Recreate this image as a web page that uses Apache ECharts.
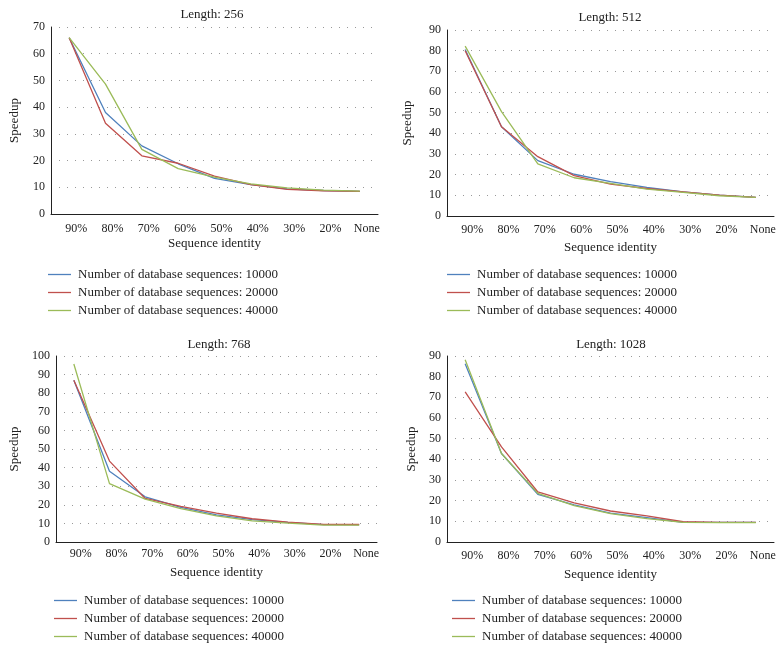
<!DOCTYPE html>
<html>
<head>
<meta charset="utf-8">
<script src="https://cdn.jsdelivr.net/npm/echarts@6/dist/echarts.min.js"></script>
<style>html,body{margin:0;padding:0;background:#fff}#c{width:783px;height:653px}</style>
</head>
<body>
<div id="c"></div>
<script>
const categories = ['90%', '80%', '70%', '60%', '50%', '40%', '30%', '20%', 'None'];
const seriesNames = ['Number of database sequences: 10000', 'Number of database sequences: 20000', 'Number of database sequences: 40000'];
const panelTitles = ['Length: 256', 'Length: 512', 'Length: 768', 'Length: 1028'];
const yMax = [70, 90, 100, 90];

const len256_10000 = [66, 38, 25.5, 18.8, 13.3, 11, 9.4, 8.8, 8.5];
const len256_20000 = [66, 34, 21.8, 19, 14.2, 11, 9.2, 8.7, 8.5];
const len256_40000 = [66, 48.6, 24.2, 17, 13.8, 11.3, 9.8, 8.9, 8.6];

const len512_10000 = [80.6, 43.2, 26.8, 20.2, 16.6, 13.8, 11.7, 10.1, 9];
const len512_20000 = [80, 43.2, 28.7, 19.5, 15.4, 13.3, 11.7, 10.1, 9];
const len512_40000 = [82.2, 50.5, 25.2, 18.5, 15.8, 13, 11.4, 9.8, 9];

const len768_10000 = [87, 38, 24.3, 18.6, 14.6, 12, 10.5, 9.3, 9.3];
const len768_20000 = [87, 43.5, 23.4, 19.1, 15.5, 12.5, 10.7, 9.5, 9.4];
const len768_40000 = [95.7, 31.4, 23, 17.9, 14.1, 11.4, 10.2, 9.1, 9.1];

const len1028_10000 = [86.3, 42.8, 23.1, 18, 14, 11.8, 9.5, 9.5, 9.5];
const len1028_20000 = [72.6, 46, 24.2, 18.9, 15, 12.6, 9.8, 9.5, 9.5];
const len1028_40000 = [88.2, 42.8, 23.5, 17.6, 13.7, 11.3, 9.5, 9.4, 9.4];

const panelData = [
  [len256_10000, len256_20000, len256_40000],
  [len512_10000, len512_20000, len512_40000],
  [len768_10000, len768_20000, len768_40000],
  [len1028_10000, len1028_20000, len1028_40000]
];

const colors = ['#4F81BD', '#C0504D', '#9BBB59'];
const FONT = 'Liberation Serif';

const grids = [
  {left: 51, top: 27, width: 327, height: 187},
  {left: 447, top: 30, width: 327, height: 186},
  {left: 56, top: 356, width: 321, height: 186},
  {left: 447, top: 356, width: 327, height: 186}
];
const titlePos = [
  {x: 212, y: 8},
  {x: 610, y: 11},
  {x: 219, y: 338},
  {x: 611, y: 338}
];
const yNameGap = [30, 33, 35, 29];
const xLabelMargin = [9, 8, 6, 8];
const xNameGap = [23, 25, 24, 26];
const legendPos = [
  {left: 48, top: 268},
  {left: 447, top: 268},
  {left: 54, top: 594},
  {left: 452, top: 594}
];

const option = {
  animation: false,
  color: colors,
  textStyle: {fontFamily: FONT},
  title: panelTitles.map((t, i) => ({
    text: t, left: titlePos[i].x, top: titlePos[i].y, textAlign: 'center', padding: 0,
    textStyle: {fontFamily: FONT, fontSize: 13, fontWeight: 'normal', color: '#222'}
  })),
  grid: grids,
  xAxis: grids.map((g, i) => ({
    type: 'category', gridIndex: i, data: categories, boundaryGap: true,
    name: 'Sequence identity', nameLocation: 'middle', nameGap: xNameGap[i],
    nameTextStyle: {fontFamily: FONT, fontSize: 13, color: '#222'},
    axisLine: {lineStyle: {color: '#222', width: 1}},
    axisTick: {show: false},
    axisLabel: {fontFamily: FONT, fontSize: 12, color: '#222', margin: xLabelMargin[i], padding: [0, 0, 0, 14], interval: 0},
    splitLine: {show: false}
  })),
  yAxis: grids.map((g, i) => ({
    type: 'value', gridIndex: i, min: 0, max: yMax[i], interval: 10,
    name: 'Speedup', nameLocation: 'middle', nameGap: yNameGap[i],
    nameTextStyle: {fontFamily: FONT, fontSize: 13, color: '#222'},
    axisLine: {show: true, lineStyle: {color: '#222', width: 1}},
    axisTick: {show: false},
    axisLabel: {fontFamily: FONT, fontSize: 12, color: '#222', margin: 6},
    splitLine: {show: true, lineStyle: {color: '#999', width: 1, type: [1, 7]}}
  })),
  legend: legendPos.map(p => ({
    left: p.left, top: p.top, orient: 'vertical', padding: 0,
    itemWidth: 23, itemHeight: 14, itemGap: 5,
    icon: 'path://M0,0H23V1.3H0Z',
    data: seriesNames,
    textStyle: {fontFamily: FONT, fontSize: 13, color: '#222', padding: [0, 0, 0, 2]},
    selectedMode: false
  })),
  series: []
};

panelData.forEach((arr, p) => {
  arr.forEach((vals, k) => {
    option.series.push({
      type: 'line', name: seriesNames[k], xAxisIndex: p, yAxisIndex: p,
      data: vals, symbol: 'none', smooth: false,
      lineStyle: {color: colors[k], width: 1.3},
      itemStyle: {color: colors[k]}
    });
  });
});

const chart = echarts.init(document.getElementById('c'), null, {renderer: 'canvas'});
chart.setOption(option);
</script>
</body>
</html>
